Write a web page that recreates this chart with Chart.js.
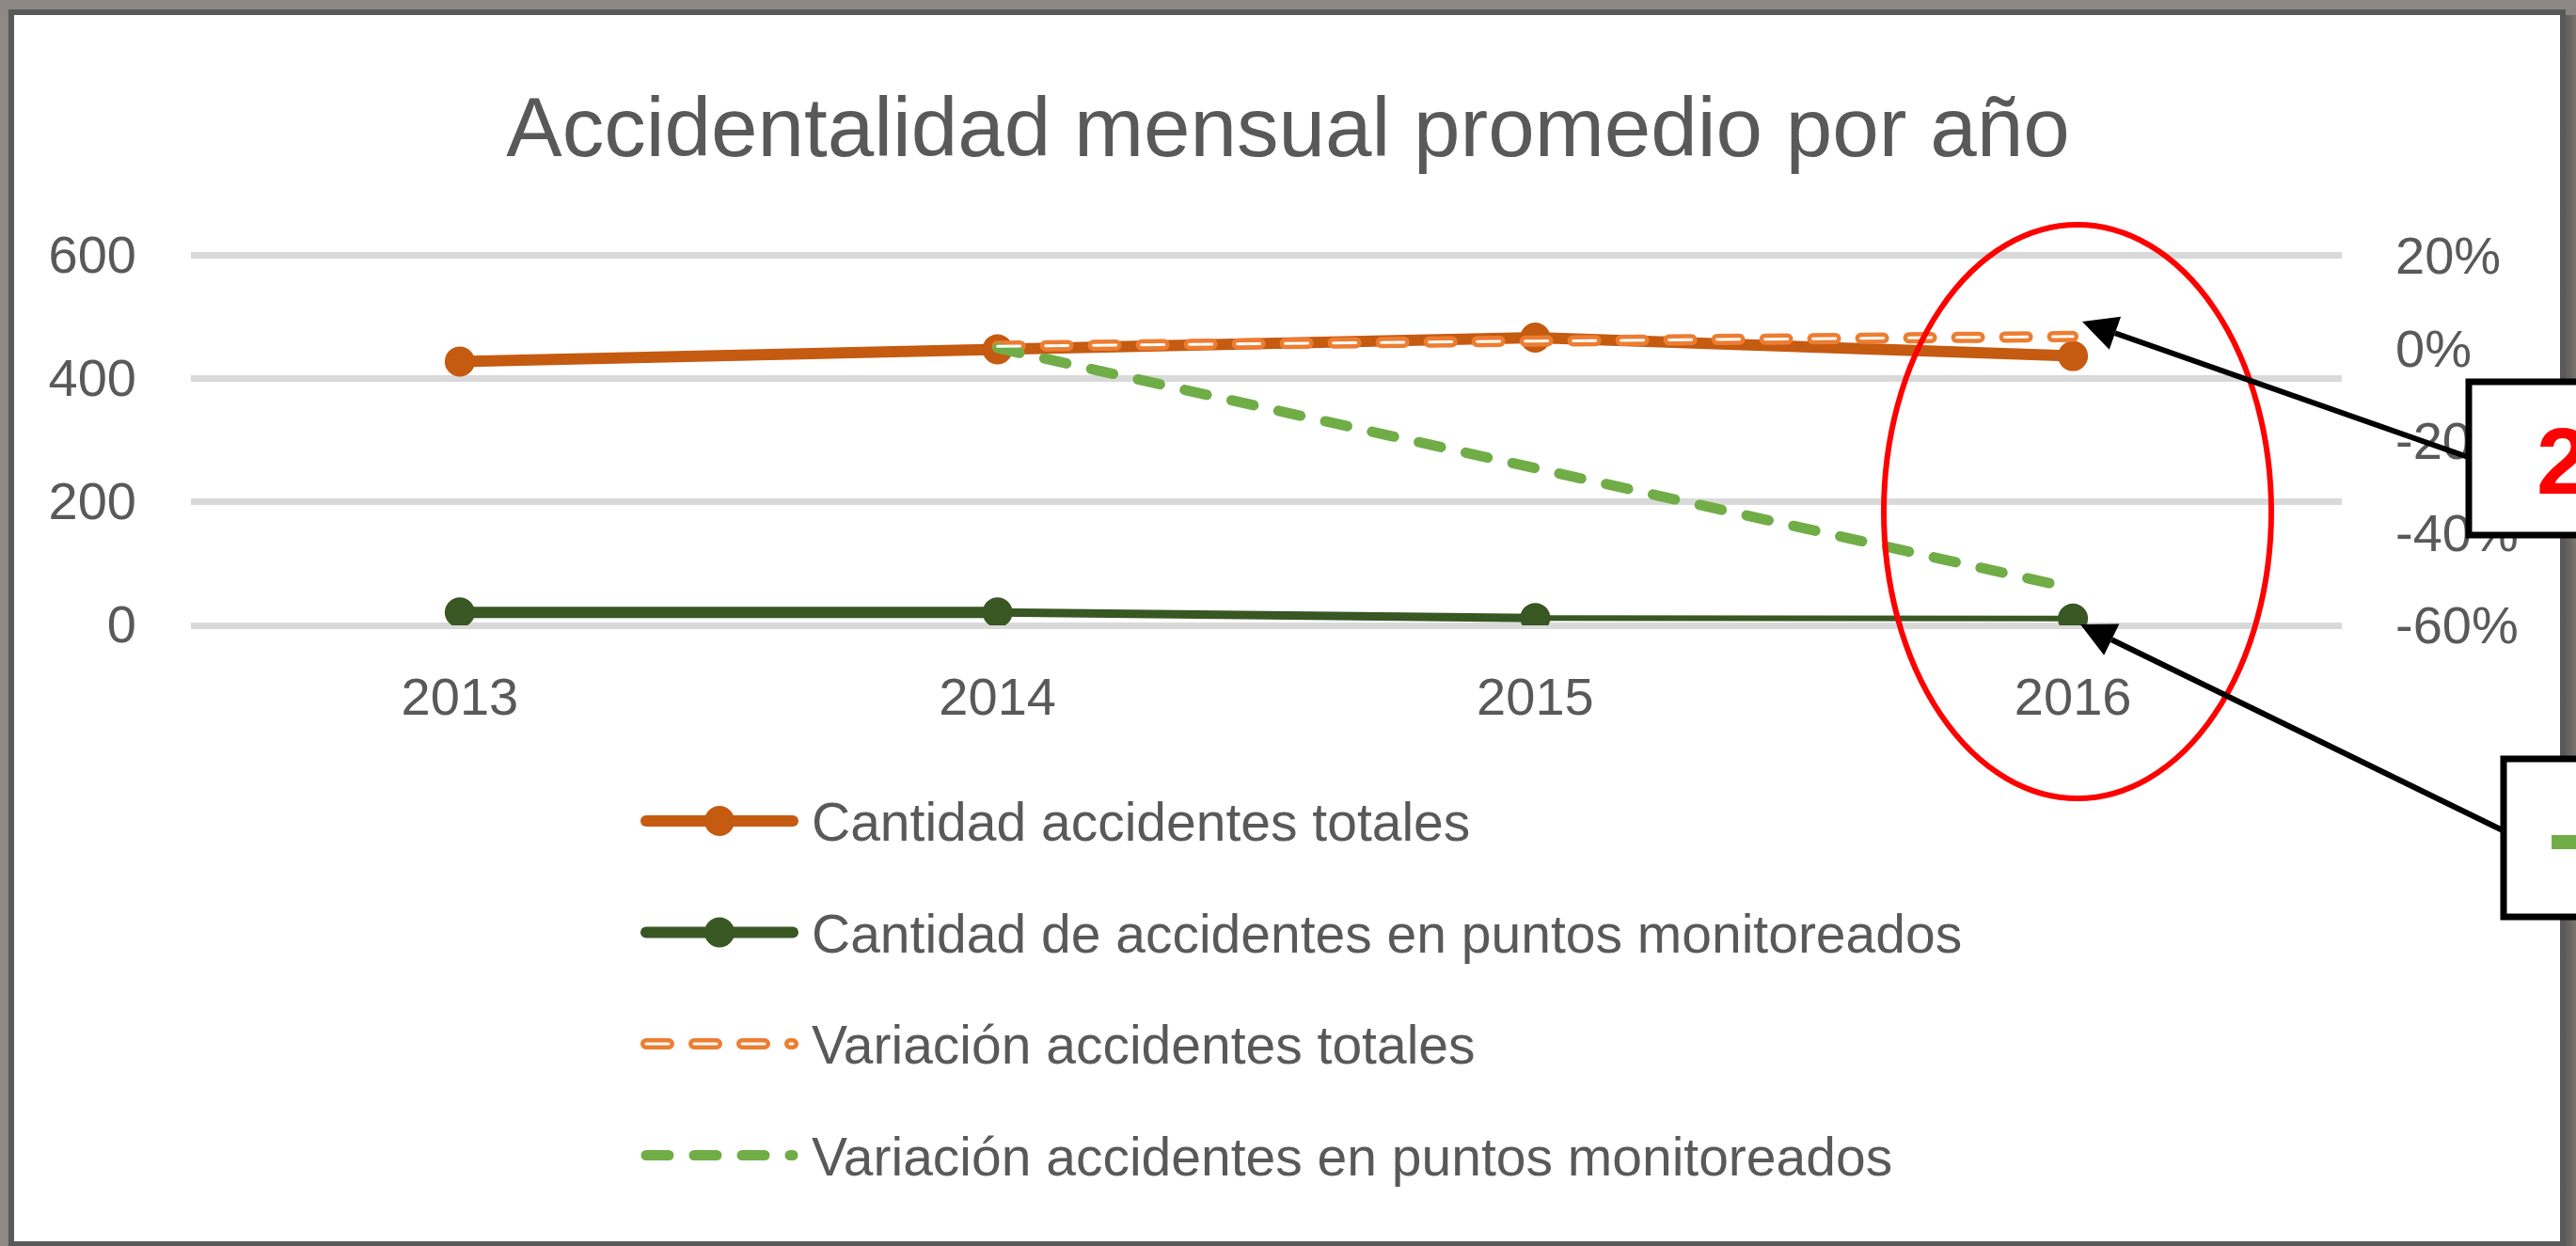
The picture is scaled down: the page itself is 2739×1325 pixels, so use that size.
<!DOCTYPE html>
<html>
<head>
<meta charset="utf-8">
<title>Accidentalidad mensual promedio por año</title>
<script src="https://cdn.jsdelivr.net/npm/chart.js@4.4.1/dist/chart.umd.min.js"></script>
<style>
  html, body { margin: 0; padding: 0; background: #8d8886; overflow: hidden; }
  canvas { display: block; }
</style>
</head>
<body>
<canvas id="chart" width="2739" height="1325"></canvas>
<script>
// data
const chartTitle = 'Accidentalidad mensual promedio por año';
const years = ['2013', '2014', '2015', '2016'];
const totalAccidents = [428, 448, 467, 437];
const monitoredAccidents = [21, 21, 12, 11];
const totalVariation = [null, 0.4, 1.5, 2.5];        // %
const monitoredVariation = [null, 0, -26, -52];     // %
const leftTicks = [0, 200, 400, 600];
const rightTicks = [-60, -40, -20, 0, 20];
const seriesNames = [
  'Cantidad accidentes totales',
  'Cantidad de accidentes en puntos monitoreados',
  'Variación accidentes totales',
  'Variación accidentes en puntos monitoreados'
];

const FONT = "'Liberation Sans', Arial, Helvetica, sans-serif";
const GREY = '#595959';
const monitoredSegmentWidths = [12, 9, 6];

// screenshot frame behind the chart
const framePlugin = {
  id: 'frame',
  beforeDraw(chart) {
    const ctx = chart.ctx;
    const W = chart.width, H = chart.height;
    ctx.save();
    ctx.fillStyle = '#8d8886';
    ctx.fillRect(0, 0, W, H);
    ctx.fillStyle = '#595959';
    ctx.fillRect(9, 10, 2719, H - 10);
    const g = ctx.createLinearGradient(2728, 0, W, 0);
    g.addColorStop(0, '#5e5d5b');
    g.addColorStop(1, '#7a746f');
    ctx.fillStyle = g;
    ctx.fillRect(2728, 16, W - 2728, H - 16);
    ctx.fillStyle = '#ffffff';
    ctx.fillRect(15, 16, 2707, 1304);
    ctx.restore();
  }
};

// vertical legend under the plot
const legendPlugin = {
  id: 'vlegend',
  afterDraw(chart) {
    const ctx = chart.ctx;
    const x0 = 687, x1 = 843, mid = 765, textX = 863;
    ctx.save();
    chart.data.datasets.forEach(ds => {
      const y = 873 + ds.legendRow * 118.5;
      ctx.strokeStyle = ds.borderColor;
      ctx.lineWidth = ds.borderWidth;
      ctx.lineCap = 'round';
      ctx.setLineDash(ds.borderDash || []);
      ctx.beginPath();
      ctx.moveTo(x0, y);
      ctx.lineTo(x1, y);
      ctx.stroke();
      ctx.setLineDash([]);
      if (ds.pointRadius > 0) {
        ctx.fillStyle = ds.pointBackgroundColor;
        ctx.beginPath();
        ctx.arc(mid, y, ds.pointRadius, 0, Math.PI * 2);
        ctx.fill();
      }
      if (ds.label) {
        ctx.fillStyle = GREY;
        ctx.font = '57px ' + FONT;
        ctx.textAlign = 'left';
        ctx.textBaseline = 'alphabetic';
        ctx.fillText(ds.label, textX, y + 21);
      }
    });
    ctx.restore();
  }
};

function arrow(ctx, x1, y1, x2, y2) {
  const a = Math.atan2(y2 - y1, x2 - x1);
  const len = 37, half = 18.5;
  const bx = x2 - len * Math.cos(a), by = y2 - len * Math.sin(a);
  ctx.beginPath();
  ctx.moveTo(x1, y1);
  ctx.lineTo(bx, by);
  ctx.stroke();
  ctx.beginPath();
  ctx.moveTo(x2, y2);
  ctx.lineTo(bx + half * Math.sin(a), by - half * Math.cos(a));
  ctx.lineTo(bx - half * Math.sin(a), by + half * Math.cos(a));
  ctx.closePath();
  ctx.fill();
}

// hand-drawn highlights on top of the chart
const notesPlugin = {
  id: 'notes',
  afterDraw(chart) {
    const ctx = chart.ctx;
    ctx.save();
    ctx.strokeStyle = '#ff0000';
    ctx.lineWidth = 6;
    ctx.beginPath();
    ctx.ellipse(2209, 544, 206, 305, 0, 0, Math.PI * 2);
    ctx.stroke();

    ctx.strokeStyle = '#000';
    ctx.fillStyle = '#000';
    ctx.lineWidth = 6;
    arrow(ctx, 2624, 486, 2214, 342);
    arrow(ctx, 2661, 883, 2212, 664);

    ctx.lineWidth = 7;
    ctx.fillStyle = '#fff';
    ctx.fillRect(2625, 406, 130, 163);
    ctx.strokeRect(2625, 406, 130, 163);
    ctx.fillRect(2662, 807, 100, 168);
    ctx.strokeRect(2662, 807, 100, 168);

    ctx.fillStyle = '#ff0000';
    ctx.font = 'bold 100px ' + FONT;
    ctx.textAlign = 'left';
    ctx.textBaseline = 'alphabetic';
    ctx.fillText('2', 2697, 525);

    ctx.fillStyle = '#70AD47';
    ctx.fillRect(2713, 888, 40, 15);
    ctx.restore();
  }
};

const tickFont = { family: FONT, size: 56 };

new Chart(document.getElementById('chart'), {
  type: 'line',
  data: {
    labels: years,
    datasets: [
      {
        label: seriesNames[0], data: totalAccidents, yAxisID: 'y',
        borderColor: '#C55A11', borderWidth: 12,
        pointRadius: 16, pointBackgroundColor: '#C55A11', pointBorderWidth: 0,
        order: 3, legendRow: 0
      },
      {
        label: seriesNames[1], data: monitoredAccidents, yAxisID: 'y',
        borderColor: '#385723', borderWidth: 12,
        segment: { borderWidth: c => monitoredSegmentWidths[c.p0DataIndex] },
        pointRadius: 16, pointBackgroundColor: '#385723', pointBorderWidth: 0,
        order: 4, legendRow: 1
      },
      {
        label: seriesNames[2], data: totalVariation, yAxisID: 'yPct',
        borderColor: '#ED7D31', borderWidth: 12, borderDash: [24, 27], borderCapStyle: 'round',
        pointRadius: 0, order: 2, legendRow: 2
      },
      {
        label: '', data: totalVariation, yAxisID: 'yPct',
        borderColor: '#ffffff', borderWidth: 3, borderDash: [24, 27], borderCapStyle: 'round',
        pointRadius: 0, order: 0, legendRow: 2
      },
      {
        label: seriesNames[3], data: monitoredVariation, yAxisID: 'yPct',
        borderColor: '#70AD47', borderWidth: 11, borderDash: [24, 27], borderCapStyle: 'round',
        pointRadius: 0, order: 1, legendRow: 3
      }
    ]
  },
  options: {
    responsive: false,
    devicePixelRatio: 1,
    animation: false,
    layout: { padding: { top: 16, left: 0, right: 0, bottom: 555 } },
    plugins: {
      legend: { display: false },
      tooltip: { enabled: false },
      title: {
        display: true,
        text: chartTitle,
        color: GREY,
        font: { family: FONT, size: 89, weight: 'normal', lineHeight: 1.2 },
        padding: { top: 72, bottom: 77 }
      }
    },
    scales: {
      x: {
        offset: true,
        afterFit: s => { s.height = 105; },
        grid: { display: false },
        border: { display: false },
        ticks: { color: GREY, font: tickFont, padding: 38 }
      },
      y: {
        position: 'left',
        min: leftTicks[0],
        max: leftTicks[leftTicks.length - 1],
        afterBuildTicks: s => { s.ticks = leftTicks.map(v => ({ value: v })); },
        afterFit: s => { s.width = 203; },
        grid: { color: '#D9D9D9', lineWidth: 7, drawTicks: false },
        border: { display: false },
        ticks: { color: GREY, font: tickFont, padding: 58, labelOffset: 3 }
      },
      yPct: {
        position: 'right',
        min: rightTicks[0],
        max: rightTicks[rightTicks.length - 1],
        afterBuildTicks: s => { s.ticks = rightTicks.map(v => ({ value: v })); },
        afterFit: s => { s.width = 249; },
        grid: { display: false, drawTicks: false },
        border: { display: false },
        ticks: { color: GREY, font: tickFont, padding: 57, labelOffset: 4, callback: v => v + '%' }
      }
    }
  },
  plugins: [framePlugin, legendPlugin, notesPlugin]
});
</script>
</body>
</html>
